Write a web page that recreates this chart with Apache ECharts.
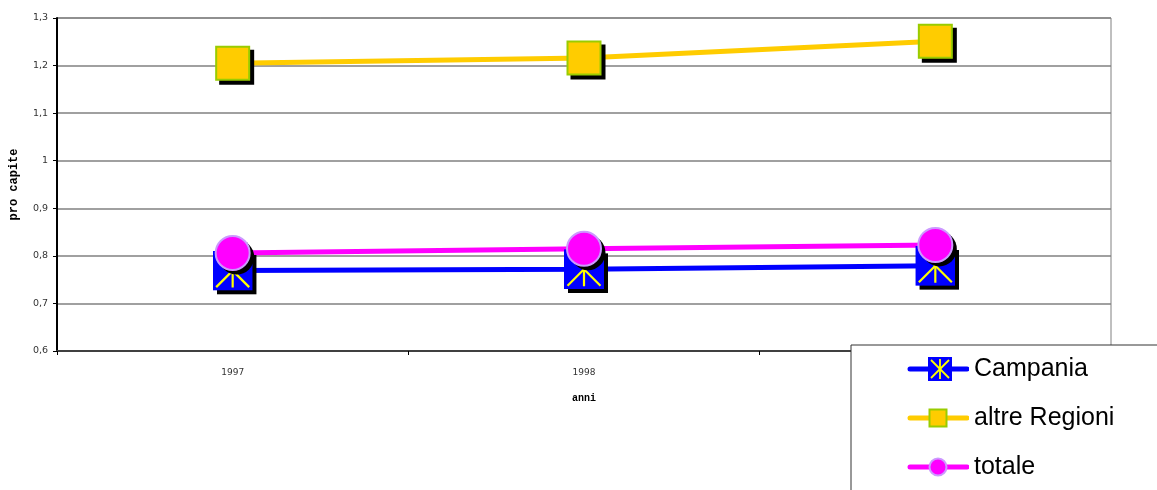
<!DOCTYPE html>
<html>
<head>
<meta charset="utf-8">
<script src="https://cdn.jsdelivr.net/npm/echarts@6/dist/echarts.min.js"></script>
<style>
  html, body { margin: 0; padding: 0; background: #fff; }
  #chart { width: 1157px; height: 490px; }
</style>
</head>
<body>
<div id="chart"></div>
<script>
// Years on the category axis
const anni = ['1997', '1998', '1999'];

// Per-capita values by area
const campania = [0.769, 0.772, 0.779];
const altreRegioni = [1.205, 1.216, 1.251];
const totale = [0.806, 0.815, 0.823];

// Value-axis range
const yMin = 0.6;
const yMax = 1.3;
const yStep = 0.1;

const svgUrl = (svg) => 'image://data:image/svg+xml;charset=utf-8,' + encodeURIComponent(svg);

// Blue square marker with a yellow asterisk
const campaniaMarker = svgUrl(
  "<svg xmlns='http://www.w3.org/2000/svg' width='40' height='40' viewBox='0 0 40 40'>" +
  "<rect width='40' height='40' fill='#0000ff'/>" +
  "<g stroke='#ffff00' stroke-width='2.2'>" +
  "<line x1='20' y1='3' x2='20' y2='37'/>" +
  "<line x1='3.5' y1='3.5' x2='36.5' y2='36.5'/>" +
  "<line x1='36.5' y1='3.5' x2='3.5' y2='36.5'/>" +
  "</g></svg>");

// Legend icons: line sample with the series marker in the middle
const iconCampania = svgUrl(
  "<svg xmlns='http://www.w3.org/2000/svg' width='62' height='26' viewBox='0 0 62 26'>" +
  "<line x1='3' y1='13' x2='60' y2='13' stroke='#0000ff' stroke-width='5' stroke-linecap='round'/>" +
  "<rect x='21' y='1' width='24' height='24' fill='#0000ff'/>" +
  "<g stroke='#ffff00' stroke-width='1.8'>" +
  "<line x1='33' y1='3' x2='33' y2='23'/>" +
  "<line x1='24' y1='4' x2='42' y2='22'/>" +
  "<line x1='42' y1='4' x2='24' y2='22'/>" +
  "</g></svg>");
const iconAltre = svgUrl(
  "<svg xmlns='http://www.w3.org/2000/svg' width='62' height='26' viewBox='0 0 62 26'>" +
  "<line x1='3' y1='13' x2='60' y2='13' stroke='#ffcc00' stroke-width='5' stroke-linecap='round'/>" +
  "<rect x='22.5' y='4.5' width='17' height='17' fill='#ffcc00' stroke='#99cc00' stroke-width='2'/>" +
  "</svg>");
const iconTotale = svgUrl(
  "<svg xmlns='http://www.w3.org/2000/svg' width='62' height='26' viewBox='0 0 62 26'>" +
  "<line x1='3' y1='13' x2='60' y2='13' stroke='#ff00ff' stroke-width='5' stroke-linecap='round'/>" +
  "<circle cx='31' cy='13' r='8.5' fill='#ff00ff' stroke='#cc99ff' stroke-width='2'/>" +
  "</svg>");

// Solid black drop shadow, offset down-right
const shadowOffset = [4, 4];

// A marker-only copy of a series, drawn in black and offset, under the real markers
function shadowSeries(id, data, symbol, size) {
  return {
    id: id, type: 'line', data: data,
    symbol: symbol, symbolSize: size, symbolOffset: shadowOffset,
    lineStyle: { opacity: 0 },
    itemStyle: { color: '#000', borderWidth: 0 },
    emphasis: { disabled: true },
    silent: true
  };
}

const chart = echarts.init(document.getElementById('chart'), null, { renderer: 'canvas' });

chart.setOption({
  animation: false,
  backgroundColor: '#fff',
  grid: {
    left: 57, right: 46, top: 18, bottom: 139,
    outerBoundsMode: 'none',
    containLabel: false,
    show: true, borderColor: '#808080', borderWidth: 1, backgroundColor: 'transparent'
  },
  legend: {
    orient: 'vertical',
    left: 851, top: 345,
    height: 400,
    padding: [11, 200, 60, 56],
    backgroundColor: '#fff',
    borderColor: '#333',
    borderWidth: 1,
    itemWidth: 62,
    itemHeight: 26,
    itemGap: 23,
    selectedMode: false,
    textStyle: { fontFamily: 'Liberation Sans', fontSize: 25, color: '#000' },
    itemStyle: { shadowBlur: 0, shadowOffsetX: 0, shadowOffsetY: 0, shadowColor: 'transparent' },
    data: [
      { name: 'Campania', icon: iconCampania },
      { name: 'altre Regioni', icon: iconAltre },
      { name: 'totale', icon: iconTotale }
    ]
  },
  xAxis: {
    type: 'category',
    data: anni,
    boundaryGap: true,
    name: 'anni',
    nameLocation: 'middle',
    nameGap: 42,
    nameTextStyle: { fontFamily: 'Liberation Mono', fontWeight: 'bold', fontSize: 10, color: '#000' },
    axisLine: { lineStyle: { color: '#404040', width: 2 } },
    axisTick: { show: true, length: 4, lineStyle: { color: '#000', width: 1 } },
    axisLabel: { margin: 17, fontFamily: 'DejaVu Sans', fontSize: 9, color: '#333' },
    splitLine: { show: false }
  },
  yAxis: {
    type: 'value',
    min: yMin, max: yMax, interval: yStep,
    name: 'pro capite',
    nameLocation: 'middle',
    nameGap: 37,
    nameRotate: 90,
    nameTextStyle: { fontFamily: 'Liberation Mono', fontWeight: 'bold', fontSize: 12, color: '#000' },
    axisLine: { show: true, lineStyle: { color: '#000', width: 2 } },
    axisTick: { show: true, length: 4, lineStyle: { color: '#000', width: 1 } },
    axisLabel: {
      margin: 9, fontFamily: 'DejaVu Sans', fontSize: 9.5, color: '#333',
      formatter: (v) => String(Math.round(v * 10) / 10).replace('.', ',')
    },
    splitLine: { show: true, lineStyle: { color: '#808080', width: 1.5 } }
  },
  series: [
    {
      name: 'Campania', type: 'line', data: campania,
      symbol: campaniaMarker, symbolSize: 40,
      lineStyle: { color: '#0000ff', width: 5 },
      itemStyle: { color: '#0000ff', shadowColor: '#000', shadowBlur: 0, shadowOffsetX: 4, shadowOffsetY: 4 },
      emphasis: { disabled: true }
    },
    shadowSeries('ombraAltre', altreRegioni, 'rect', 35),
    {
      name: 'altre Regioni', type: 'line', data: altreRegioni,
      symbol: 'rect', symbolSize: 33,
      lineStyle: { color: '#ffcc00', width: 5 },
      itemStyle: { color: '#ffcc00', borderColor: '#99cc00', borderWidth: 2 },
      emphasis: { disabled: true }
    },
    shadowSeries('ombraTotale', totale, 'circle', 35),
    {
      name: 'totale', type: 'line', data: totale,
      symbol: 'circle', symbolSize: 34,
      lineStyle: { color: '#ff00ff', width: 5 },
      itemStyle: { color: '#ff00ff', borderColor: '#cc99ff', borderWidth: 2 },
      emphasis: { disabled: true }
    }
  ]
});
</script>
</body>
</html>
